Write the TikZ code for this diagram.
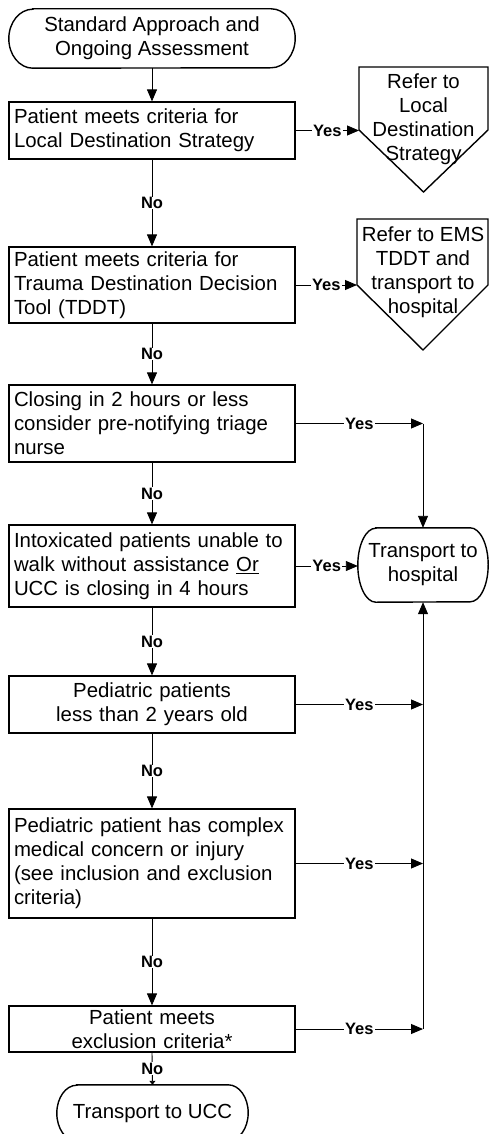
\documentclass[tikz,border=0pt]{standalone}
\usepackage{fontspec}
\setmainfont{Liberation Sans}
\usetikzlibrary{arrows.meta}
\tikzset{
  x=1pt, y=-1pt,
  every node/.style={font=\fontsize{20.4}{24}\selectfont},
  box/.style={draw, line width=1.2pt, inner xsep=5pt, inner ysep=0pt, text width=276pt, minimum width=286pt},
  cbox/.style={box, align=center},
  lbox/.style={box, align=left},
  txt/.style={inner sep=0pt, align=center},
  shape line/.style={draw, line width=1.4pt, line join=miter},
  conn/.style={line width=0.9pt, -{Triangle[length=12pt,width=10pt]}},
  lbl/.style={fill=white, inner xsep=1.5pt, inner ysep=0.5pt, font=\fontsize{16.5}{19}\selectfont\bfseries},
}
\begin{document}
\begin{tikzpicture}
\useasboundingbox (0,0) rectangle (491,1134);
\clip (0,0) rectangle (491,1134);

% start terminal
\node[txt, minimum width=286pt, minimum height=59pt] (s) at (152,38.5) {Standard Approach and\\Ongoing Assessment};
\draw[shape line] ([xshift=24pt]s.north west) -- ([xshift=-24pt]s.north east)
  arc[start angle=90, end angle=-90, x radius=24pt, y radius=29.5pt]
  -- ([xshift=24pt]s.south west)
  arc[start angle=270, end angle=90, x radius=24pt, y radius=29.5pt] -- cycle;

% decision boxes
\node[lbox, minimum height=57pt] (b1) at (152,130.5) {Patient meets criteria for\\Local Destination Strategy};
\node[lbox, minimum height=76pt] (b2) at (152,285) {Patient meets criteria for\\Trauma Destination Decision\\Tool (TDDT)};
\node[lbox, minimum height=77pt] (b3) at (152,423.5) {Closing in 2 hours or less\\consider pre-notifying triage\\nurse};
\node[lbox, minimum height=82pt] (b4) at (152,566) {Intoxicated patients unable to\\walk without assistance \underline{Or}\\UCC is closing in 4 hours};
\node[cbox, minimum height=57pt] (b5) at (152,704.5) {Pediatric patients\\less than 2 years old};
\node[lbox, minimum height=109pt] (b6) at (152,863.5) {Pediatric patient has complex\\medical concern or injury\\(see inclusion and exclusion\\criteria)};
\node[cbox, minimum height=46pt] (b7) at (152,1029) {Patient meets\\exclusion criteria*};

% off-page connectors
\node[txt] (p1) at (423.5,119) {Refer to\\Local\\Destination\\Strategy};
\draw[shape line] (359,67) -- (488,67) -- (488,130) -- (423.5,192) -- (359,130) -- cycle;
\coordinate (p1l) at (359,130);
\node[txt] (p2) at (423,272) {Refer to EMS\\TDDT and\\transport to\\hospital};
\draw[shape line] (357,219) -- (488,219) -- (488,285) -- (423,350) -- (357,285) -- cycle;
\coordinate (p2l) at (357,285);

% transport to hospital terminal
\node[txt, minimum width=130pt, minimum height=74pt] (h) at (423,565) {Transport to\\hospital};
\draw[shape line] ([xshift=18pt]h.north west) -- ([xshift=-18pt]h.north east)
  arc[start angle=90, end angle=-90, x radius=18pt, y radius=37pt]
  -- ([xshift=18pt]h.south west)
  arc[start angle=270, end angle=90, x radius=18pt, y radius=37pt] -- cycle;

% transport to UCC terminal
\node[txt, minimum width=191pt, minimum height=56pt] (u) at (152.5,1113) {Transport to UCC};
\draw[shape line] ([xshift=20pt]u.north west) -- ([xshift=-20pt]u.north east)
  arc[start angle=90, end angle=-90, x radius=20pt, y radius=28pt]
  -- ([xshift=20pt]u.south west)
  arc[start angle=270, end angle=90, x radius=20pt, y radius=28pt] -- cycle;

% junction coordinates on the right trunk
\coordinate (c3) at (423,423.5);
\coordinate (c5) at (423,704.5);
\coordinate (c6) at (423,863.5);
\coordinate (c7) at (423,1029);

% vertical flow
\draw[conn] (s.south) -- (b1.north);
\draw[conn] (b1.south) -- node[lbl] {No} (b2.north);
\draw[conn] (b2.south) -- node[lbl] {No} (b3.north);
\draw[conn] (b3.south) -- node[lbl] {No} (b4.north);
\draw[conn] (b4.south) -- node[lbl] {No} (b5.north);
\draw[conn] (b5.south) -- node[lbl] {No} (b6.north);
\draw[conn] (b6.south) -- node[lbl] {No} (b7.north);
\draw[line width=0.9pt, -{Triangle[length=4pt,width=6pt]}] (b7.south) -- node[lbl] {No} (u.north);

% yes branches
\draw[conn] (b1.east) -- node[lbl] {Yes} (b1.east -| p1l);
\draw[conn] (b2.east) -- node[lbl] {Yes} (b2.east -| p2l);
\draw[conn] (b3.east) -- node[lbl] {Yes} (c3);
\draw[conn] (c3) -- (h.north);
\draw[conn] (b4.east) -- node[lbl] {Yes} (b4.east -| h.west);
\draw[conn] (b5.east) -- node[lbl] {Yes} (c5);
\draw[conn] (b6.east) -- node[lbl] {Yes} (c6);
\draw[conn] (b7.east) -- node[lbl] {Yes} (c7);
\draw[conn] (c7) -- (h.south);
\end{tikzpicture}
\end{document}
